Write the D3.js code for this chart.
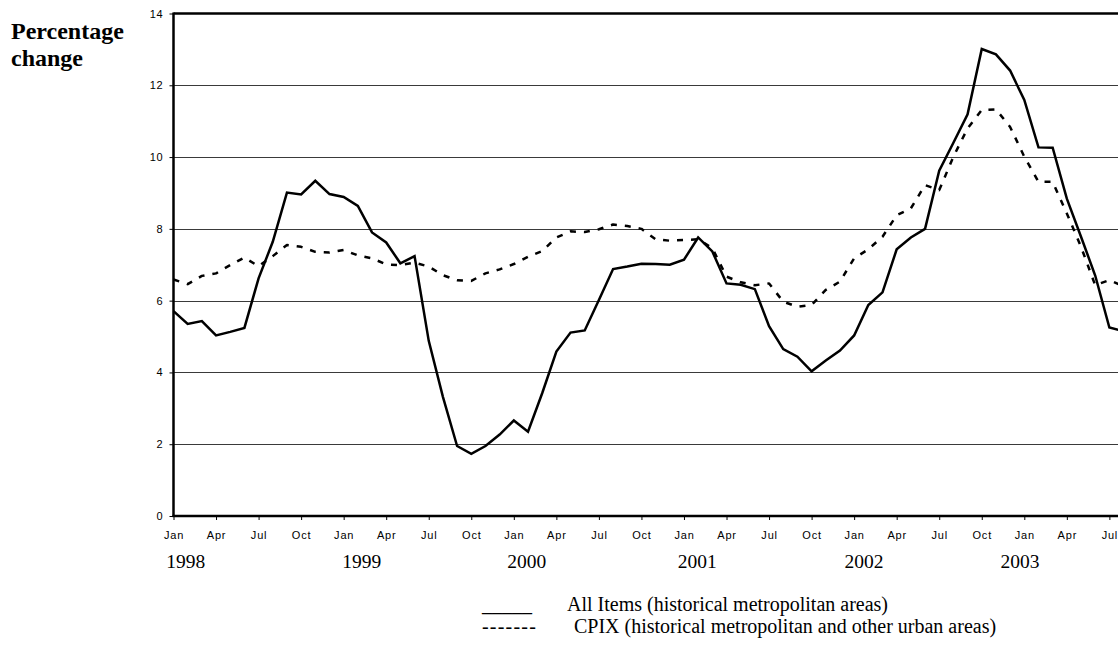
<!DOCTYPE html>
<html>
<head>
<meta charset="utf-8">
<script src="https://cdn.jsdelivr.net/npm/d3@7"></script>
<style>
  html, body { margin: 0; padding: 0; background: #fff; }
  svg { display: block; }
</style>
</head>
<body>
<svg id="chart" width="1118" height="651"></svg>
<script>
// ---- data ----
const monthNames = ["Jan", "Apr", "Jul", "Oct"];
const yearLabels = ["1998", "1999", "2000", "2001", "2002", "2003"];
const yearLabelOffset = [0.86, 1.27, 0.92, 0.93, 0.7, -0.3]; // months after January
const yTicks = [0, 2, 4, 6, 8, 10, 12, 14];
const allItems = [
  5.71, 5.35, 5.43, 5.03, 5.13, 5.24, 6.62, 7.64, 9.01, 8.96, 9.34, 8.97,
  8.89, 8.64, 7.90, 7.62, 7.04, 7.24, 4.88, 3.32, 1.95, 1.73, 1.95, 2.27,
  2.66, 2.35, 3.42, 4.58, 5.11, 5.17, 6.02, 6.88, 6.95, 7.03, 7.02, 7.00,
  7.14, 7.76, 7.37, 6.48, 6.44, 6.32, 5.29, 4.65, 4.44, 4.03, 4.33, 4.61,
  5.03, 5.88, 6.23, 7.43, 7.76, 8.00, 9.62, 10.40, 11.19, 13.01, 12.86, 12.41,
  11.59, 10.27, 10.26, 8.84, 7.78, 6.70, 5.25, 5.15
];
const cpix = [
  6.59, 6.46, 6.69, 6.76, 6.99, 7.20, 6.96, 7.24, 7.55, 7.50, 7.36, 7.34,
  7.41, 7.26, 7.18, 7.01, 6.99, 7.06, 6.95, 6.71, 6.57, 6.55, 6.76, 6.87,
  7.02, 7.22, 7.38, 7.76, 7.93, 7.91, 7.99, 8.12, 8.08, 8.00, 7.71, 7.67,
  7.69, 7.71, 7.46, 6.67, 6.51, 6.43, 6.48, 5.97, 5.83, 5.88, 6.30, 6.53,
  7.18, 7.43, 7.78, 8.38, 8.57, 9.22, 9.08, 10.01, 10.80, 11.31, 11.33, 10.84,
  10.01, 9.31, 9.31, 8.43, 7.50, 6.43, 6.57, 6.40
];
const legendMarks = ["_____", "-------"];
const legendTexts = ["All Items (historical metropolitan areas)", "CPIX (historical metropolitan and other urban areas)"];
const titleLines = ["Percentage", "change"];

// ---- layout ----
const svg = d3.select("#chart");
const W = 1118;
const plotLeft = 173.5, plotTop = 13.5, plotBottom = 516;
const monthPx = 14.18;
const nMonths = allItems.length;

const x = d3.scaleLinear().domain([0, nMonths - 1]).range([plotLeft, plotLeft + (nMonths - 1) * monthPx]);
const y = d3.scaleLinear().domain([0, 14]).range([plotBottom, plotTop]);

const sansFont = "Liberation Sans, Arial, sans-serif";
const serifFont = "Liberation Serif, Times New Roman, serif";

// gridlines
svg.append("g").selectAll("line")
  .data(yTicks.filter(d => d > 0 && d < 14))
  .join("line")
  .attr("x1", plotLeft).attr("x2", W)
  .attr("y1", d => Math.round(y(d)) + 0.5).attr("y2", d => Math.round(y(d)) + 0.5)
  .attr("stroke", "#3a3a3a").attr("stroke-width", 1);

// top border (14 line)
svg.append("line")
  .attr("x1", plotLeft).attr("x2", W)
  .attr("y1", y(14)).attr("y2", y(14))
  .attr("stroke", "#000").attr("stroke-width", 2.5);

// y axis
const yAxis = d3.axisLeft(y).tickValues(yTicks).tickSize(4).tickPadding(6).tickFormat(d3.format("d"));
const gy = svg.append("g").attr("transform", `translate(${plotLeft},0)`).call(yAxis);
gy.select(".domain").remove();
gy.selectAll(".tick line").attr("stroke", "#000");
gy.selectAll(".tick text").attr("font-family", sansFont).attr("font-size", 11).attr("letter-spacing", 0.8).attr("fill", "#000");
svg.append("line").attr("x1", plotLeft).attr("x2", plotLeft).attr("y1", plotTop - 1).attr("y2", plotBottom + 1)
  .attr("stroke", "#000").attr("stroke-width", 2.5);

// x axis
const xTickVals = d3.range(0, nMonths, 3);
const xAxis = d3.axisBottom(x).tickValues(xTickVals).tickSize(4).tickPadding(11)
  .tickFormat(d => monthNames[(d % 12) / 3]);
const gx = svg.append("g").attr("transform", `translate(0,${plotBottom})`).call(xAxis);
gx.select(".domain").remove();
gx.selectAll(".tick line").attr("stroke", "#000");
gx.selectAll(".tick text").attr("font-family", sansFont).attr("font-size", 11).attr("letter-spacing", 0.8).attr("fill", "#000");
svg.append("line").attr("x1", plotLeft - 1).attr("x2", W).attr("y1", plotBottom).attr("y2", plotBottom)
  .attr("stroke", "#000").attr("stroke-width", 2.5);

// year labels
svg.append("g").selectAll("text")
  .data(yearLabels)
  .join("text")
  .attr("x", (d, i) => x(i * 12 + yearLabelOffset[i]))
  .attr("y", 568)
  .attr("text-anchor", "middle")
  .attr("font-family", serifFont)
  .attr("font-size", 19.5)
  .text(d => d);

// lines
const line = d3.line().x((d, i) => x(i)).y(d => y(d));
svg.append("path").datum(cpix).attr("d", line)
  .attr("fill", "none").attr("stroke", "#000").attr("stroke-width", 2.5)
  .attr("stroke-dasharray", "6,8").attr("stroke-linejoin", "round");
svg.append("path").datum(allItems).attr("d", line)
  .attr("fill", "none").attr("stroke", "#000").attr("stroke-width", 2.5)
  .attr("stroke-linejoin", "miter");

// title
svg.append("text")
  .attr("font-family", serifFont)
  .attr("font-weight", "bold").attr("font-size", 24)
  .selectAll("tspan").data(titleLines).join("tspan")
  .attr("x", 11).attr("y", (d, i) => 39 + i * 27)
  .text(d => d);

// legend
const lg = svg.append("g").attr("font-family", serifFont).attr("font-size", 20);
lg.selectAll("text.mark").data(legendMarks).join("text").attr("class", "mark")
  .attr("x", 482).attr("y", (d, i) => 611 + i * 22)
  .attr("letter-spacing", (d, i) => i === 0 ? 0 : 1.2)
  .text(d => d);
lg.selectAll("text.label").data(legendTexts).join("text").attr("class", "label")
  .attr("x", (d, i) => i === 0 ? 567 : 574).attr("y", (d, i) => 611 + i * 22).text(d => d);
</script>
</body>
</html>
